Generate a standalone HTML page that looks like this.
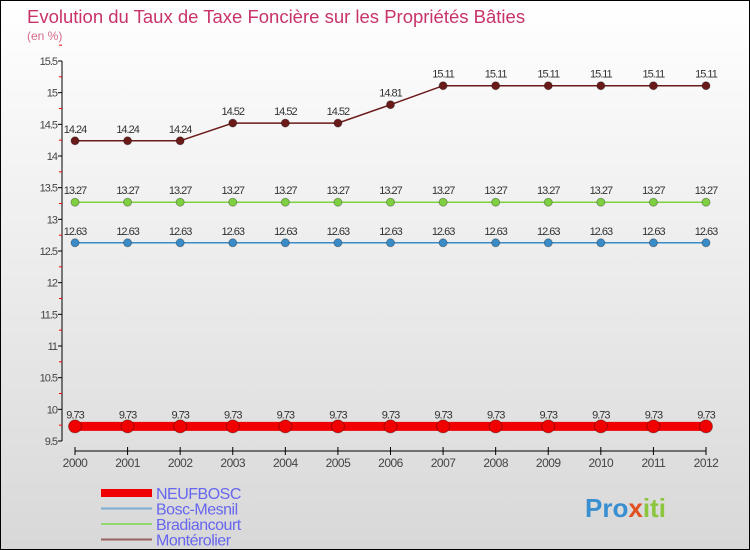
<!DOCTYPE html>
<html><head><meta charset="utf-8"><style>
body{margin:0}
#c{width:748px;height:548px;border:1px solid #000;background:linear-gradient(#fff,#d8d8d8);position:relative;font-family:"Liberation Sans",sans-serif}
</style></head><body>
<div id="c">
<svg id="s" width="748" height="548" style="position:absolute;left:0;top:0">
<text x="26" y="22" font-size="18.5" fill="#c8336a">Evolution du Taux de Taxe Foncière sur les Propriétés Bâties</text>
<text x="26" y="39" font-size="12" fill="#d46a8a">(en %)</text>
<text x="584" y="516" font-size="26" font-weight="bold" fill="#3a8fd0">Pro<tspan fill="#e05020">x</tspan><tspan fill="#8cc63f">iti</tspan></text>
</svg>
</div>
<script>
const years=[2000,2001,2002,2003,2004,2005,2006,2007,2008,2009,2010,2011,2012];
const neufbosc=[9.73,9.73,9.73,9.73,9.73,9.73,9.73,9.73,9.73,9.73,9.73,9.73,9.73];
const boscMesnil=[12.63,12.63,12.63,12.63,12.63,12.63,12.63,12.63,12.63,12.63,12.63,12.63,12.63];
const bradiancourt=[13.27,13.27,13.27,13.27,13.27,13.27,13.27,13.27,13.27,13.27,13.27,13.27,13.27];
const monterolier=[14.24,14.24,14.24,14.52,14.52,14.52,14.81,15.11,15.11,15.11,15.11,15.11,15.11];
const yTicks=[9.5,10,10.5,11,11.5,12,12.5,13,13.5,14,14.5,15,15.5];
const s=document.getElementById('s');const NS='http://www.w3.org/2000/svg';
function X(i){return 74+i*(705-74)/(years.length-1);}
function Y(v){return 440-(v-9.5)*(380/6);}
function el(t,a,p){const e=document.createElementNS(NS,t);for(const k in a)e.setAttribute(k,a[k]);(p||s).appendChild(e);return e;}
const ax=el('line',{x1:61,y1:Y(15.5),x2:61,y2:Y(9.5),stroke:'#000'});


yTicks.forEach(v=>{el('line',{x1:57,x2:61,y1:Y(v),y2:Y(v),stroke:'#000'});
 el('line',{x1:58,x2:61,y1:Y(v+0.25),y2:Y(v+0.25),stroke:'#f00'});
 const t=el('text',{x:56,y:Y(v)+4,'font-size':11,'text-anchor':'end',fill:'#444','letter-spacing':'-1'});t.textContent=String(v);
 
 });
const xa=el('line',{x1:X(0),x2:X(12),y1:450,y2:450,stroke:'#000'});


years.forEach((y,i)=>{el('line',{x1:X(i),x2:X(i),y1:446,y2:454,stroke:'#000'});
 const t=el('text',{x:X(i),y:466,'font-size':12,'text-anchor':'middle',fill:'#444','letter-spacing':'-0.5'});t.textContent=y;
 
 });
function series(vals,color,w,r,name){
 const g=el('g',{});
 
 
 el('polyline',{points:vals.map((v,i)=>X(i)+','+Y(v)).join(' '),fill:'none',stroke:color,'stroke-width':w},g);
 vals.forEach((v,i)=>{const c=el('circle',{cx:X(i),cy:Y(v),r:r,fill:color,stroke:'rgba(0,0,0,0.3)'},g);
  
  
  const t=el('text',{x:X(i),y:Y(v)-8,'font-size':11,'text-anchor':'middle',fill:'#333','letter-spacing':'-1'},g);t.textContent=v.toFixed(2);
  
  });
}
series(monterolier,'#6b1a1a',1.5,4,'monterolier-series');
series(bradiancourt,'#7ed040',1.5,4,'bradiancourt-series');
series(boscMesnil,'#3a8cc8',1.5,4,'bosc-mesnil-series');
series(neufbosc,'#f00000',9,6.5,'neufbosc-series');
const leg=[['NEUFBOSC','#f00000',8],['Bosc-Mesnil','#7aaed0',2],['Bradiancourt','#90d870',2],['Montérolier','#9a6060',2]];
leg.forEach((l,i)=>{const y=492+i*15.5;
 const g=el('g',{});
 
 
 el('line',{x1:100,x2:151,y1:y,y2:y,stroke:l[1],'stroke-width':l[2]},g);
 const t=el('text',{x:155,y:y+6,'font-size':16,fill:'#6666ee','letter-spacing':'-0.5'},g);t.textContent=l[0];});
</script>
</body></html>
